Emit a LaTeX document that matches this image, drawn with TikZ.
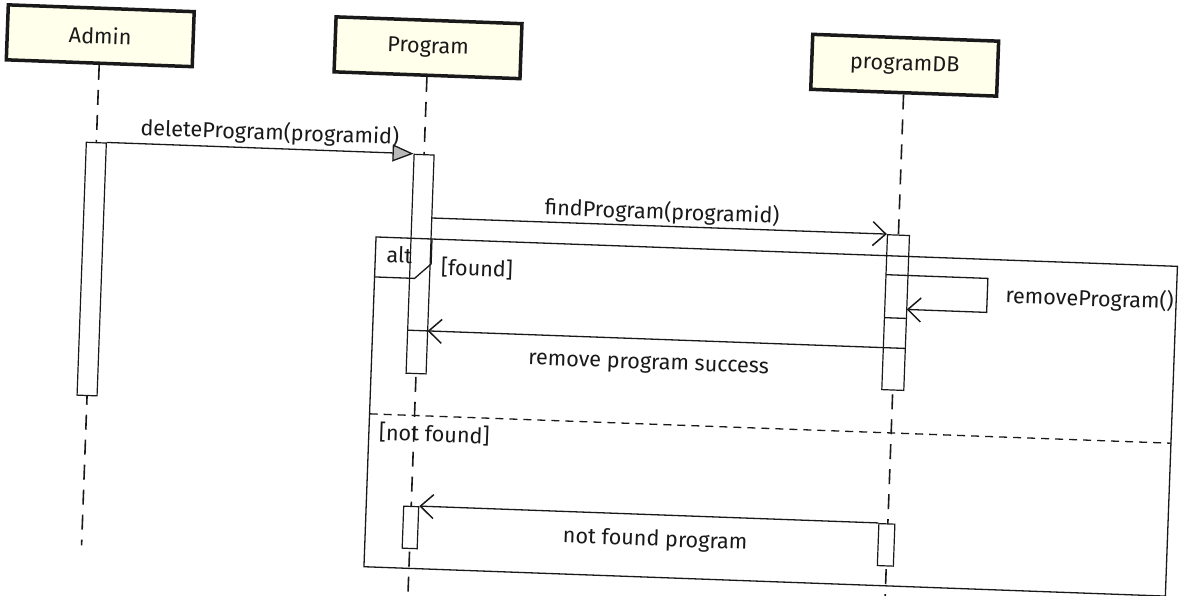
\documentclass[tikz,border=0pt]{standalone}
\usepackage{fontspec}
\setmainfont{Fira Sans}
\usetikzlibrary{arrows.meta}
\definecolor{boxfill}{RGB}{255,255,236}
\definecolor{ink}{RGB}{25,25,25}
\begin{document}
\begin{tikzpicture}[x=1pt,y=-1pt,
  txt/.style={font=\fontsize{21.6}{25}\selectfont, text=ink, inner sep=0pt},
  actor/.style={draw=ink, line width=3.5pt, fill=boxfill, minimum width=186pt, minimum height=55pt, inner sep=0pt, font=\fontsize{21.6}{25}\selectfont, text=ink},
  life/.style={draw=ink, line width=1.6pt, dash pattern=on 15pt off 10pt},
  bar/.style={draw=ink, line width=1.2pt, fill=white, inner sep=0pt},
  msg/.style={draw=ink, line width=1.3pt},
  sync/.style={msg, -{Triangle[length=21pt,width=17pt,fill=gray!55]}},
  ret/.style={msg, -{Straight Barb[length=13pt,width=24pt,line width=1.5pt]}},
  frame/.style={draw=ink, line width=1.3pt},
  sep/.style={draw=ink, line width=1.3pt, dash pattern=on 8pt off 6pt}
]
\useasboundingbox (0,0) rectangle (1188,595);
\fill[white] (0,0) rectangle (1188,595);
\begin{scope}[rotate around={-2.1:(594,297)}, transform shape]
  % lifeline heads
  \node[actor] (admin) at (91,54) {Admin};
  \node[actor] (prog) at (419,54) {Program};
  \node[actor] (db) at (896,54) {programDB};
  % lifeline ends
  \coordinate (aEnd) at (91,564);
  \coordinate (pEnd) at (419,610);
  \coordinate (dEnd) at (896,610);
  \draw[life] (admin.south) -- (aEnd);
  \draw[life] (prog.south) -- (pEnd);
  \draw[life] (db.south) -- (dEnd);
  % activation bars
  \node[bar, minimum width=20pt, minimum height=253pt] (aBar) at (91,287.5) {};
  \node[bar, minimum width=20pt, minimum height=219pt] (pBar1) at (419,270.5) {};
  \node[bar, minimum width=22pt, minimum height=155pt] (dBar) at (896,301.5) {};
  \node[bar, minimum width=15pt, minimum height=42pt] (pBar2) at (419,534) {};
  \node[bar, minimum width=16pt, minimum height=42pt] (dBar2) at (895,534) {};
  % combined fragment
  \coordinate (fTL) at (374,245);
  \coordinate (fBR) at (1176,575);
  \draw[frame] (fTL) rectangle (fBR);
  \coordinate (t1) at (430,245);
  \coordinate (t2) at (430,270);
  \coordinate (t3) at (414,285);
  \coordinate (t4) at (374,285);
  \draw[frame] (t1) -- (t2) -- (t3) -- (t4);
  \node[txt] (altlbl) at (398,262) {alt};
  \node[txt, anchor=west] (g1) at (440,273) {[found]};
  \coordinate (sL) at (374,422);
  \coordinate (sR) at (1176,422);
  \draw[sep] (sL) -- (sR);
  \node[txt, anchor=west] (g2) at (384,440) {[not found]};
  % messages
  \draw[sync] (aBar.north east) -- (pBar1.north west);
  \node[txt] (l1) at (264,145) {deleteProgram(programid)};
  \coordinate (m2s) at (429,224);
  \draw[ret] (m2s) -- (dBar.north west);
  \node[txt] (l2) at (659,210) {findProgram(programid)};
  \coordinate (s1) at (885,264);
  \coordinate (s2) at (987,264);
  \coordinate (s3) at (987,298);
  \coordinate (s4) at (907,298);
  \draw[ret] (s1) -- (s2) -- (s3) -- (s4);
  \node[txt, anchor=west] (l3) at (1005,281) {removeProgram()};
  \coordinate (n1) at (885,307);
  \coordinate (n2) at (907,307);
  \draw[msg] (n1) -- (n2);
  \coordinate (r1) at (907,337);
  \coordinate (r2) at (429,337);
  \coordinate (r3) at (409,337);
  \draw[ret] (r1) -- (r2);
  \draw[msg] (r3) -- (r2);
  \node[txt] (l4) at (651,363) {remove program success};
  \draw[ret] (dBar2.north west) -- (pBar2.north east);
  \node[txt] (l5) at (664,538) {not found program};
\end{scope}
\end{tikzpicture}
\end{document}
